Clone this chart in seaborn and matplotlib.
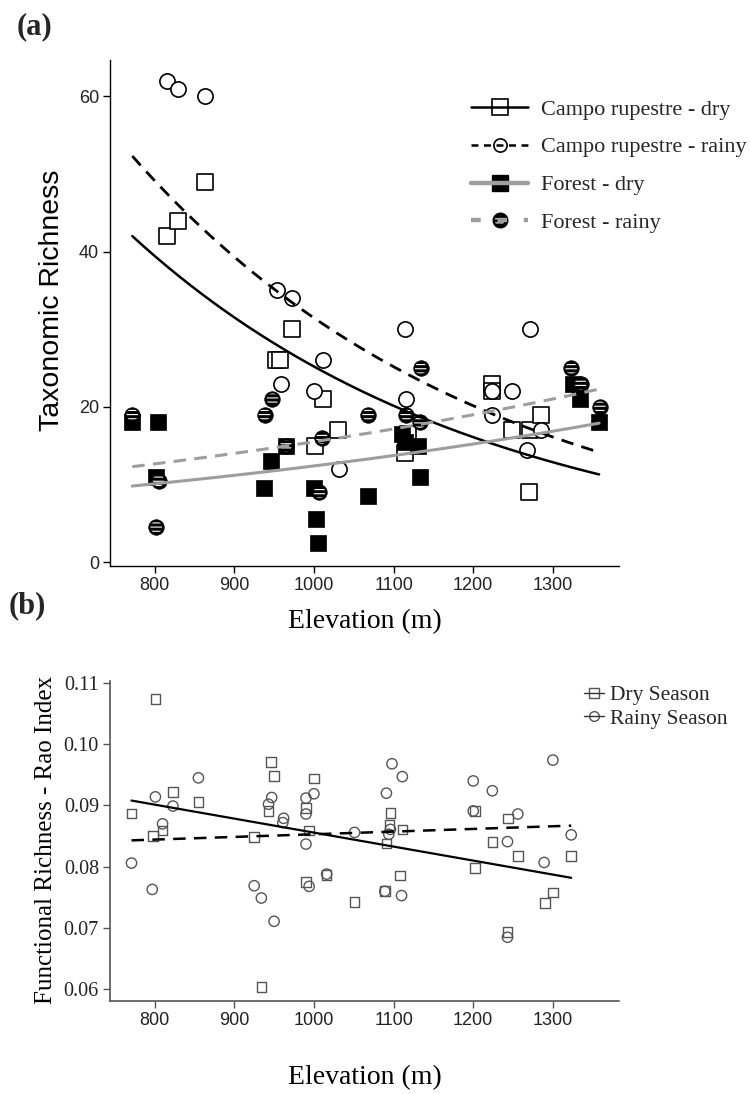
import numpy as np
import pandas as pd
import matplotlib
matplotlib.use("Agg")
import matplotlib.pyplot as plt
import seaborn as sns
from matplotlib.lines import Line2D
from matplotlib.legend_handler import HandlerTuple

# ---------------- panel (a): taxonomic richness ----------------
cr_dry_elev = [815, 829, 863, 953, 958, 973, 1001, 1012, 1030, 1114, 1118, 1223, 1223, 1249, 1271, 1285, 1270]
cr_dry_rich = [42, 44, 49, 26, 26, 30, 15, 21, 17, 14, 16.5, 23, 22, 17, 17, 19, 9]

cr_rainy_elev = [816, 829, 863, 954, 973, 1011, 959, 1000, 1032, 1114, 1271, 1116, 1223, 1249, 1223, 1285, 1268]
cr_rainy_rich = [62, 61, 60, 35, 34, 26, 23, 22, 12, 30, 30, 21, 22, 22, 19, 17, 14.5]

forest_dry_elev = [772, 804, 802, 946, 937, 965, 1000, 1003, 1005, 1068, 1133, 1111, 1114, 1131, 1325, 1334, 1358]
forest_dry_rich = [18, 18, 11, 13, 9.5, 15, 9.5, 5.5, 2.5, 8.5, 11, 16.5, 15.5, 15, 23, 21, 18]

forest_rainy_elev = [772, 805, 802, 938, 948, 965, 1010, 1007, 1068, 1134, 1116, 1133, 1323, 1335, 1359]
forest_rainy_rich = [19, 10.5, 4.5, 19, 21, 15, 16, 9, 19, 25, 19, 18, 25, 23, 20]

# fitted log-link (Poisson GLM) curves: log(mu) = a + b * elevation
glm_groups = ["Campo rupestre - dry", "Campo rupestre - rainy", "Forest - dry", "Forest - rainy"]
glm_intercept = [5.468, 5.679, 1.489, 1.726]
glm_slope = [-0.002241, -0.002230, 0.001028, 0.001015]
glm_elev_range = [772, 1358]

# ---------------- panel (b): functional richness ----------------
dry_elev = [771, 798, 801, 810, 823, 855, 925, 934, 943, 946, 950, 990, 990, 994, 1000, 1016,
            1051, 1089, 1091, 1095, 1096, 1108, 1111, 1202, 1202, 1224, 1244, 1243, 1256, 1290, 1300, 1323]
dry_rao = [0.0887, 0.0850, 0.1074, 0.0859, 0.0922, 0.0906, 0.0849, 0.0604, 0.0891, 0.0971, 0.0948,
           0.0896, 0.0775, 0.0859, 0.0944, 0.0787, 0.0742, 0.0760, 0.0838, 0.0868, 0.0888, 0.0786,
           0.0861, 0.0891, 0.0798, 0.0840, 0.0879, 0.0694, 0.0818, 0.0741, 0.0758, 0.0818]

rainy_elev = [771, 797, 801, 810, 823, 855, 925, 934, 943, 947, 950, 961, 962, 990, 990, 990, 994,
              1000, 1016, 1051, 1089, 1091, 1094, 1096, 1098, 1110, 1111, 1200, 1200, 1224, 1243,
              1243, 1256, 1289, 1300, 1323]
rainy_rao = [0.0806, 0.0763, 0.0914, 0.0870, 0.0899, 0.0945, 0.0769, 0.0749, 0.0902, 0.0913, 0.0711,
             0.0872, 0.0879, 0.0912, 0.0886, 0.0837, 0.0768, 0.0919, 0.0788, 0.0856, 0.0760, 0.0920,
             0.0853, 0.0861, 0.0968, 0.0753, 0.0947, 0.0940, 0.0891, 0.0924, 0.0841, 0.0685, 0.0886,
             0.0807, 0.0974, 0.0852]

lm_groups = ["Dry Season", "Rainy Season"]
lm_intercept = [0.1084, 0.08095]
lm_slope = [-2.283e-5, 4.35e-6]
lm_elev_range = [771, 1323]

x_ticks = [800, 900, 1000, 1100, 1200, 1300]
a_y_ticks = [0, 20, 40, 60]
b_y_ticks = [0.06, 0.07, 0.08, 0.09, 0.10, 0.11]

# ---------------- styling ----------------
sns.set_theme(style="ticks")
plt.rcParams["font.family"] = ["Liberation Sans", "DejaVu Sans"]
plt.rcParams["hatch.linewidth"] = 0.8
plt.rcParams["hatch.color"] = "white"
plt.rcParams["lines.scale_dashes"] = False
SERIF = ["Liberation Serif", "DejaVu Serif"]
GRAY = "#9e9e9e"

W, H = 750, 1094
fig = plt.figure(figsize=(W / 100, H / 100), dpi=100)
ax1 = fig.add_axes([110 / W, 1 - 566 / H, 509 / W, 506 / H])
ax2 = fig.add_axes([110 / W, 1 - 1001 / H, 509 / W, 320 / H])

# ---- panel (a) points ----
df_crd = pd.DataFrame({"elev": cr_dry_elev, "rich": cr_dry_rich})
df_crr = pd.DataFrame({"elev": cr_rainy_elev, "rich": cr_rainy_rich})
df_fd = pd.DataFrame({"elev": forest_dry_elev, "rich": forest_dry_rich})
df_fr = pd.DataFrame({"elev": forest_rainy_elev, "rich": forest_rainy_rich})

sns.scatterplot(data=df_crd, x="elev", y="rich", ax=ax1, marker="s", s=135,
                facecolor="white", edgecolor="black", linewidth=1.2, zorder=3, legend=False)
sns.scatterplot(data=df_crr, x="elev", y="rich", ax=ax1, marker="o", s=120,
                facecolor="white", edgecolor="black", linewidth=1.2, zorder=3, legend=False)
sns.scatterplot(data=df_fd, x="elev", y="rich", ax=ax1, marker="s", s=140,
                facecolor="black", edgecolor="black", linewidth=0.5, zorder=3, legend=False)
sns.scatterplot(data=df_fr, x="elev", y="rich", ax=ax1, marker="o", s=125,
                facecolor="black", edgecolor="black", linewidth=0.5, zorder=3, legend=False)
sns.scatterplot(data=df_fr, x="elev", y="rich", ax=ax1, marker="o", s=70,
                facecolor="none", edgecolor="white", linewidth=0, hatch="----", zorder=3.1, legend=False)

# ---- panel (a) fitted curves ----
grid = np.linspace(glm_elev_range[0], glm_elev_range[1], 200)
a_styles = [
    dict(color="black", lw=1.8, ls="-"),
    dict(color="black", lw=2.0, ls=(0, (9, 6))),
    dict(color=GRAY, lw=2.2, ls="-"),
    dict(color=GRAY, lw=2.2, ls=(0, (9, 6))),
]
for a, b, st in zip(glm_intercept, glm_slope, a_styles):
    sns.lineplot(x=grid, y=np.exp(a + b * grid), ax=ax1, zorder=4, **st)

ax1.set_xlim(744, 1383)
ax1.set_ylim(-0.5, 64.7)
ax1.set_xticks(x_ticks)
ax1.set_yticks(a_y_ticks)
sns.despine(ax=ax1)
for sp in ["left", "bottom"]:
    ax1.spines[sp].set_color("black")
    ax1.spines[sp].set_linewidth(1.0)
ax1.tick_params(axis="both", labelsize=13, length=5, width=1, color="black",
                labelcolor="#222222", pad=3)
ax1.set_xlabel("Elevation (m)", fontsize=20, family=SERIF, color="black")
ax1.xaxis.set_label_coords(0.5, (566 - 622) / 506)
ax1.xaxis.label.set_va("center")
ax1.set_ylabel("Taxonomic Richness", fontsize=20.5, color="black")
ax1.yaxis.set_label_coords((52 - 110) / 509, (566 - 300) / 506)
ax1.yaxis.label.set_va("center")

# legend (a): line drawn over the marker, as in the reference
hatch_proxy = ax1.scatter([], [], marker="o", s=50, facecolor="none", edgecolor="white",
                          linewidths=0, hatch="----")
h1 = (Line2D([], [], ls="none", marker="s", ms=11.5, mfc="white", mec="black", mew=1.2),
      Line2D([], [], color="black", lw=1.8))
h2 = (Line2D([], [], ls="none", marker="o", ms=9.5, mfc="white", mec="black", mew=1.2),
      Line2D([], [], color="black", lw=1.8, ls=(0, (5, 4))))
h3 = (Line2D([], [], ls="none", marker="s", ms=11.5, mfc="black", mec="black"),
      Line2D([], [], color=GRAY, lw=3.2))
h4 = (Line2D([], [], ls="none", marker="o", ms=10.5, mfc="black", mec="black"),
      hatch_proxy,
      Line2D([], [], color=GRAY, lw=3.2, ls=(0, (7, 12))))
fig.legend([h1, h2, h3, h4], glm_groups, loc="upper left",
           bbox_to_anchor=(471 / W, 1 - 99 / H), bbox_transform=fig.transFigure,
           frameon=False, prop={"family": SERIF, "size": 16},
           handlelength=2.57, handletextpad=0.6, labelspacing=0.78,
           borderpad=0, borderaxespad=0, scatteryoffsets=[0.5],
           handler_map={tuple: HandlerTuple(ndivide=1, pad=0)})

# ---- panel (b) ----
df_dry = pd.DataFrame({"elev": dry_elev, "rao": dry_rao})
df_rainy = pd.DataFrame({"elev": rainy_elev, "rao": rainy_rao})
PT = "#555555"
sns.scatterplot(data=df_dry, x="elev", y="rao", ax=ax2, marker="s", s=48,
                facecolor="none", edgecolor=PT, linewidth=1.0, zorder=3, legend=False)
sns.scatterplot(data=df_rainy, x="elev", y="rao", ax=ax2, marker="o", s=55,
                facecolor="none", edgecolor=PT, linewidth=1.0, zorder=3, legend=False)

grid_b = np.linspace(lm_elev_range[0], lm_elev_range[1], 50)
b_styles = [dict(color="black", lw=1.6, ls="-"),
            dict(color="black", lw=1.8, ls=(0, (9, 6)))]
for a, b, st in zip(lm_intercept, lm_slope, b_styles):
    sns.lineplot(x=grid_b, y=a + b * grid_b, ax=ax2, zorder=4, **st)

ax2.set_xlim(744, 1383)
ax2.set_ylim(0.0581, 0.1103)
ax2.set_xticks(x_ticks)
ax2.set_yticks(b_y_ticks)
ax2.set_yticklabels([f"{v:.2f}" for v in b_y_ticks], family=SERIF, fontsize=14.5)
sns.despine(ax=ax2)
for sp in ["left", "bottom"]:
    ax2.spines[sp].set_color("#555555")
    ax2.spines[sp].set_linewidth(1.2)
ax2.tick_params(axis="both", length=5, width=1, color="#555555", labelcolor="#222222", pad=3)
ax2.tick_params(axis="x", labelsize=13)
ax2.set_xlabel("Elevation (m)", fontsize=20, family=SERIF, color="black")
ax2.xaxis.set_label_coords(0.5, (1001 - 1078) / 320)
ax2.xaxis.label.set_va("center")
ax2.set_ylabel("Functional Richness - Rao Index", fontsize=18, family=SERIF, color="black")
ax2.yaxis.set_label_coords((46 - 110) / 509, (1001 - 840) / 320)
ax2.yaxis.label.set_va("center")

hb1 = (Line2D([], [], ls="none", marker="s", ms=6.5, mfc="none", mec=PT, mew=1.0),
       Line2D([], [], color="#333333", lw=1.0))
hb2 = (Line2D([], [], ls="none", marker="o", ms=7, mfc="none", mec=PT, mew=1.0),
       Line2D([], [], color="#333333", lw=1.0))
fig.legend([hb1, hb2], lm_groups, loc="upper left",
           bbox_to_anchor=(584 / W, 1 - 685 / H), bbox_transform=fig.transFigure,
           frameon=False, prop={"family": SERIF, "size": 15.5},
           handlelength=0.95, handletextpad=0.25, labelspacing=0.17,
           borderpad=0, borderaxespad=0,
           handler_map={tuple: HandlerTuple(ndivide=1, pad=0)})

# panel tags
fig.text(34 / W, 1 - 27 / H, "(a)", fontsize=22, fontweight="bold", family=SERIF,
         ha="center", va="center")
fig.text(27 / W, 1 - 606 / H, "(b)", fontsize=22, fontweight="bold", family=SERIF,
         ha="center", va="center")

fig.savefig("out.png", dpi=100)
